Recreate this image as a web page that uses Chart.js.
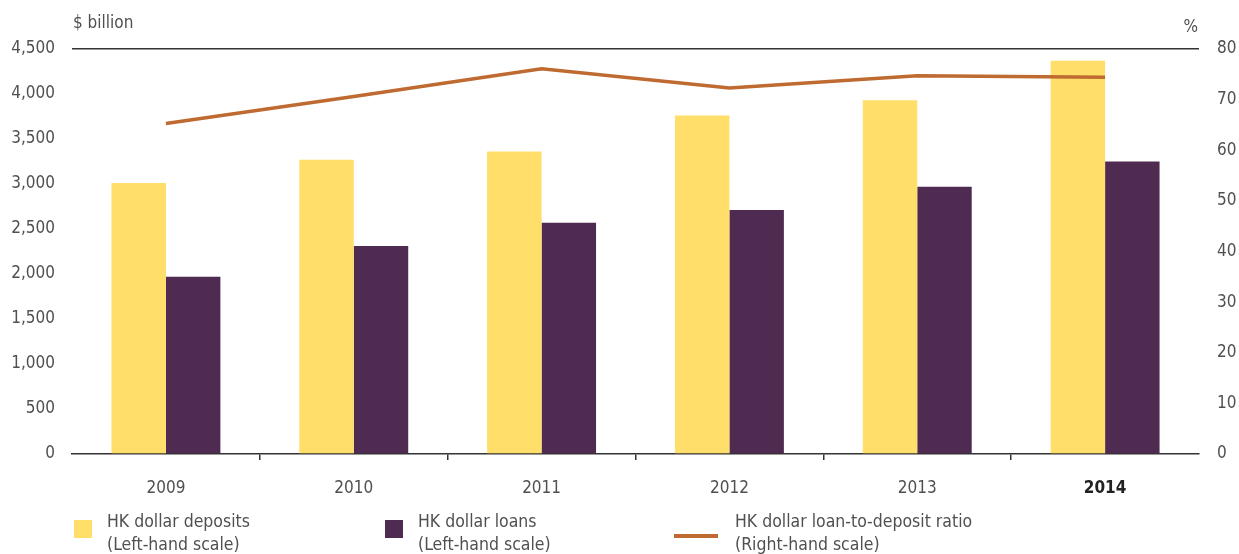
<!DOCTYPE html>
<html>
<head>
<meta charset="utf-8">
<script src="https://cdn.jsdelivr.net/npm/chart.js@4"></script>
<style>
  html, body { margin: 0; padding: 0; background: #fff; }
  #wrap { width: 1239px; height: 554px; position: relative; }
</style>
</head>
<body>
<div id="wrap"><canvas id="c" width="1239" height="554"></canvas></div>
<script>
// Hong Kong dollar deposits and loans, with loan-to-deposit ratio
const years = ['2009', '2010', '2011', '2012', '2013', '2014'];
const deposits = [3010, 3270, 3360, 3760, 3930, 4370];   // $ billion
const loans = [1970, 2310, 2570, 2710, 2970, 3250];      // $ billion
const ratio = [65.3, 70.6, 76.1, 72.3, 74.7, 74.4];      // %
const leftTicks = [0, 500, 1000, 1500, 2000, 2500, 3000, 3500, 4000, 4500];
const rightTicks = [0, 10, 20, 30, 40, 50, 60, 70, 80];
const legendLabels = [
  ['HK dollar deposits', '(Left-hand scale)'],
  ['HK dollar loans', '(Left-hand scale)'],
  ['HK dollar loan-to-deposit ratio', '(Right-hand scale)']
];

const FONT = "'Liberation Sans Narrow', 'DejaVu Sans Condensed', Roboto, sans-serif";
const TXT = '#505050';
const YELLOW = '#FFDE69';
const PURPLE = '#4F2A51';
const ORANGE = '#BF6A31';

// Unit titles above the two value axes and the legend under the chart
const annotations = {
  id: 'annotations',
  afterDraw(chart) {
    const ctx = chart.ctx;
    const area = chart.chartArea;
    ctx.save();
    ctx.fillStyle = TXT;
    ctx.font = '17px ' + FONT;
    ctx.textBaseline = 'middle';
    ctx.textAlign = 'left';
    ctx.fillText('$ billion', area.left + 1, 24);
    ctx.textAlign = 'right';
    ctx.fillText('%', area.right - 1, 28);

    ctx.font = '17.5px ' + FONT;
    ctx.textAlign = 'left';
    const items = [
      { x: 74, kind: 'box', color: YELLOW },
      { x: 385, kind: 'box', color: PURPLE },
      { x: 674, kind: 'line', color: ORANGE }
    ];
    items.forEach((it, i) => {
      ctx.fillStyle = it.color;
      let tx;
      if (it.kind === 'box') {
        ctx.fillRect(it.x, 520, 18, 18);
        tx = it.x + 33;
      } else {
        ctx.fillRect(it.x, 534, 44, 4);
        tx = it.x + 61;
      }
      ctx.fillStyle = TXT;
      ctx.fillText(legendLabels[i][0], tx, 522);
      ctx.fillText(legendLabels[i][1], tx, 545);
    });
    ctx.restore();
  }
};

new Chart(document.getElementById('c'), {
  data: {
    labels: years,
    datasets: [
      {
        type: 'line',
        label: 'HK dollar loan-to-deposit ratio',
        data: ratio,
        yAxisID: 'yR',
        borderColor: ORANGE,
        borderWidth: 3.5,
        pointRadius: 0,
        tension: 0,
        order: 0
      },
      {
        type: 'bar',
        label: 'HK dollar deposits',
        data: deposits,
        yAxisID: 'yL',
        backgroundColor: YELLOW,
        categoryPercentage: 0.58,
        barPercentage: 1.0,
        order: 1
      },
      {
        type: 'bar',
        label: 'HK dollar loans',
        data: loans,
        yAxisID: 'yL',
        backgroundColor: PURPLE,
        categoryPercentage: 0.58,
        barPercentage: 1.0,
        order: 1
      }
    ]
  },
  options: {
    responsive: false,
    animation: false,
    layout: { padding: { top: 49, left: 0, right: 0, bottom: 0 } },
    plugins: { legend: { display: false }, tooltip: { enabled: false } },
    scales: {
      x: {
        offset: true,
        afterFit(scale) { scale.height = 100; },
        border: { display: true, color: '#333', width: 1.5 },
        grid: {
          offset: true,
          drawOnChartArea: false,
          drawTicks: true,
          tickLength: 6,
          lineWidth: 1.5,
          color: (c) => (c.type === 'tick' && c.index > 0) ? '#333' : 'rgba(0,0,0,0)'
        },
        ticks: {
          padding: 18,
          color: (c) => c.index === years.length - 1 ? '#222' : TXT,
          font: (c) => ({
            family: FONT,
            size: 17,
            weight: c.index === years.length - 1 ? 'bold' : 'normal'
          })
        }
      },
      yL: {
        position: 'left',
        min: 0,
        max: 4500,
        afterFit(scale) { scale.width = 72; },
        afterBuildTicks(scale) { scale.ticks = leftTicks.map(v => ({ value: v })); },
        border: { display: false },
        grid: {
          drawTicks: false,
          lineWidth: 1.5,
          color: (c) => (c.tick && c.tick.value === 4500) ? '#333' : 'rgba(0,0,0,0)'
        },
        ticks: {
          padding: 17,
          color: TXT,
          font: { family: FONT, size: 17 },
          callback: (v) => v.toLocaleString('en-US')
        }
      },
      yR: {
        position: 'right',
        min: 0,
        max: 80,
        afterFit(scale) { scale.width = 40; },
        afterBuildTicks(scale) { scale.ticks = rightTicks.map(v => ({ value: v })); },
        border: { display: false },
        grid: { display: false, drawTicks: false },
        ticks: {
          padding: 18,
          color: TXT,
          font: { family: FONT, size: 17 }
        }
      }
    }
  },
  plugins: [annotations]
});
</script>
</body>
</html>
